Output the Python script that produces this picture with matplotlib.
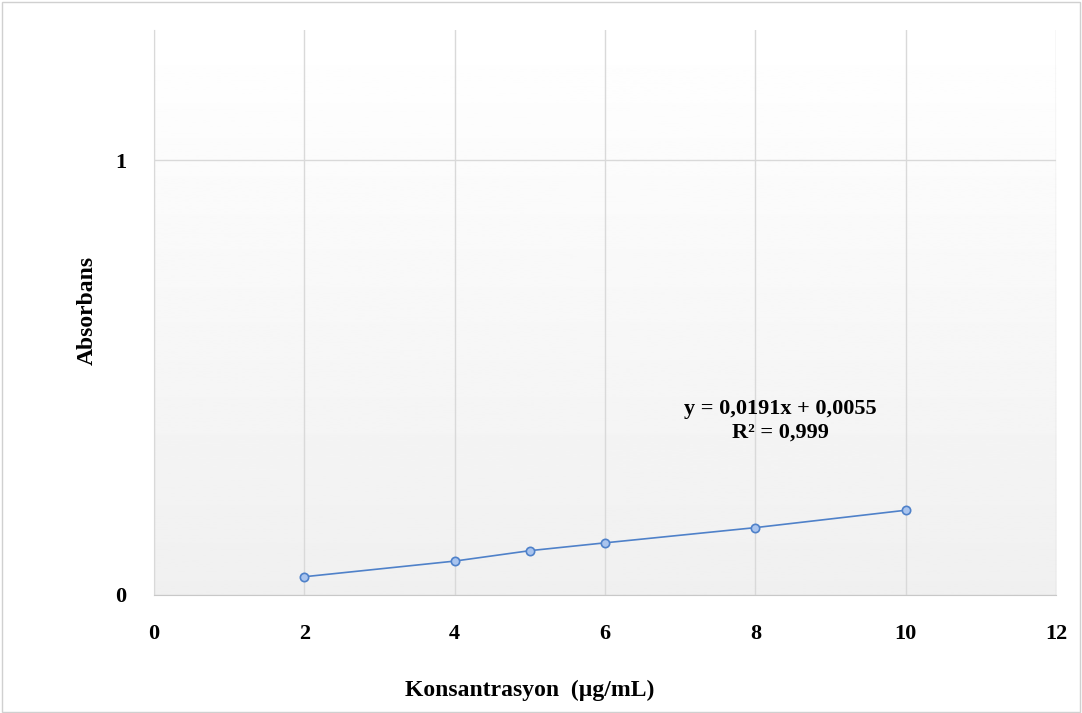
import numpy as np
import matplotlib.pyplot as plt
from matplotlib.patches import Rectangle

# veri
konsantrasyon = [2, 4, 5, 6, 8, 10]
absorbans = [0.042, 0.078, 0.102, 0.120, 0.155, 0.195]
x_ticks = [0, 2, 4, 6, 8, 10, 12]
y_ticks = [0, 1]
denklem = 'y = 0,0191x + 0,0055\nR² = 0,999'

plt.rcParams['font.family'] = ['Liberation Serif', 'DejaVu Serif']

fig = plt.figure(figsize=(10.82, 7.13), dpi=100)
fig.patches.append(Rectangle((0.002, 0.002), 0.996, 0.995, transform=fig.transFigure,
                             fill=False, edgecolor='#d0d0d0', linewidth=1))
ax = fig.add_axes([0.1423, 0.1655, 0.8337, 0.7925])

# arka plan degrade (ust beyaz, alt acik gri)
grad = np.linspace(0.94, 1.0, 256).reshape(-1, 1)
ax.imshow(grad, cmap='gray', vmin=0, vmax=1, aspect='auto',
          extent=[0, 12, 0, 1.3], origin='lower', zorder=0)

ax.plot(konsantrasyon, absorbans, color='#4f81c9', linewidth=1.2, marker='o',
        markersize=6, markerfacecolor='#a9c4ee', markeredgecolor='#4f81c9',
        markeredgewidth=1.2, zorder=3)

ax.set_xlim(0, 12)
ax.set_ylim(0, 1.3)
ax.set_xticks(x_ticks)
ax.set_yticks(y_ticks)
ax.set_xticklabels([str(t) for t in x_ticks], fontsize=16, fontweight='bold')
ax.set_yticklabels([str(t) for t in y_ticks], fontsize=16, fontweight='bold')
ax.tick_params(axis='x', length=0, pad=21)
ax.tick_params(axis='y', length=0, pad=20)
ax.grid(True, color='#d9d9d9', linewidth=1, zorder=1)
ax.set_axisbelow(True)

for s in ['top', 'right']:
    ax.spines[s].set_visible(False)
ax.spines['left'].set_color('#d9d9d9')
ax.spines['bottom'].set_color('#c8c8c8')

fig.text(0.49, 0.032, 'Konsantrasyon  (µg/mL)', ha='center', va='center',
         fontsize=17, fontweight='bold')
fig.text(0.081, 0.565, 'Absorbans', ha='center', va='center', rotation=90,
         fontsize=17, fontweight='bold')

ax.text(8.33, 0.40, denklem, ha='center', va='center', fontsize=16,
        fontweight='bold', linespacing=1.25)

fig.savefig('out.png', dpi=100)
